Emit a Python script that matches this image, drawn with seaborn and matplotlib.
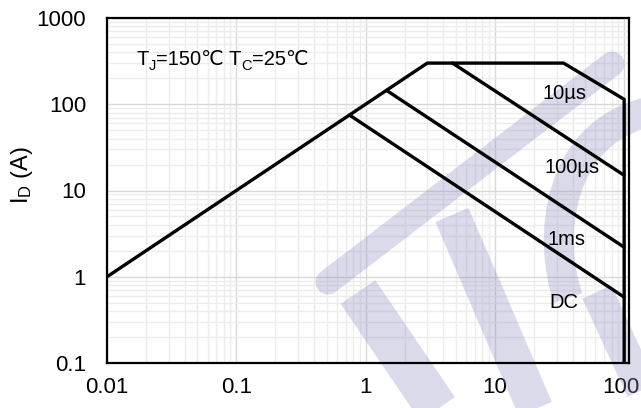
import numpy as np
import pandas as pd
import matplotlib
matplotlib.use("Agg")
import matplotlib.pyplot as plt
import matplotlib.transforms as mtransforms
from matplotlib.lines import Line2D
from matplotlib.path import Path
from matplotlib.patches import PathPatch
import seaborn as sns

# ---- data ----
outline_v = [0.01, 3.0, 34.0, 100.0, 100.0]
outline_i = [1.0, 300.0, 300.0, 114.0, 0.1]
dc_v = [0.75, 100.0]
dc_i = [75.0, 0.58]
ms1_v = [1.45, 100.0]
ms1_i = [145.0, 2.2]
us100_v = [4.7, 100.0]
us100_i = [300.0, 15.0]

curve_labels = ["10µs", "100µs", "1ms", "DC"]
label_v = [34.3, 39.5, 35.5, 34.3]
label_i = [134.0, 18.5, 2.69, 0.50]

x_ticks = [0.01, 0.1, 1, 10, 100]
x_ticklabels = ["0.01", "0.1", "1", "10", "100"]
y_ticks = [0.1, 1, 10, 100, 1000]
y_ticklabels = ["0.1", "1", "10", "100", "1000"]

sns.set_style("white")
plt.rcParams["font.family"] = ["Liberation Sans", "DejaVu Sans"]
plt.rcParams["mathtext.fontset"] = "custom"
plt.rcParams["mathtext.rm"] = "Liberation Sans"
plt.rcParams["mathtext.it"] = "Liberation Sans"
for k in ["text.color", "axes.labelcolor", "xtick.color", "ytick.color",
          "xtick.labelcolor", "ytick.labelcolor"]:
    plt.rcParams[k] = "black"

W, H = 641, 408
fig = plt.figure(figsize=(W / 100, H / 100), dpi=100)
ax = fig.add_axes([107 / W, 1 - 363 / H, (629 - 107) / W, (363 - 18) / H])

ax.set_xscale("log")
ax.set_yscale("log")
ax.set_xlim(0.01, 109)
ax.set_ylim(0.1, 1000)

ax.grid(True, which="major", color="#d8d8d8", lw=1.0, zorder=0)
ax.grid(True, which="minor", color="#ececec", lw=1.0, zorder=0)
ax.set_axisbelow(True)

# watermark (figure pixel coordinates)
def px(x, y):
    return (x / W, 1 - y / H)

wm_color = (0.55, 0.55, 0.75, 0.32)
def wm_line(p0, p1, lw_px, cap="butt"):
    (x0, y0), (x1, y1) = px(*p0), px(*p1)
    ln = Line2D([x0, x1], [y0, y1], transform=fig.transFigure, color=wm_color,
                lw=lw_px * 0.72, solid_capstyle=cap, clip_on=False, zorder=1.5)
    ax.add_line(ln)

wm_line((328, 282), (612, 64), 25, "round")
wm_line((358, 292), (445, 420), 42)
wm_line((452, 215), (540, 420), 36)
wm_line((597, 292), (652, 412), 32)
verts = [px(568, 298), px(548, 240), px(555, 135), px(648, 112)]
pp = PathPatch(Path(verts, [Path.MOVETO, Path.CURVE4, Path.CURVE4, Path.CURVE4]),
               transform=fig.transFigure, fill=False, edgecolor=wm_color,
               lw=30 * 0.72, clip_on=False, zorder=1.5, capstyle="butt")
ax.add_patch(pp)

lw = 2.4
for v, i in [(outline_v, outline_i), (dc_v, dc_i), (ms1_v, ms1_i), (us100_v, us100_i)]:
    sns.lineplot(x=v, y=i, ax=ax, color="black", lw=lw, sort=False,
                 estimator=None, zorder=3)

for lab, v, i in zip(curve_labels, label_v, label_i):
    ax.text(v, i, lab, ha="center", va="center", fontsize=14.5, zorder=4,
            color="black")

# condition text with subscripts, built from chained pieces
fs, fs_sub = 14.5, 10.5
pieces = [("T", False), ("J", True), ("=150℃ T", False), ("C", True), ("=25℃", False)]
prev = None
prev_normal = None
for txt, sub in pieces:
    size = fs_sub if sub else fs
    if prev is None:
        t = ax.text(0.056, 0.864, txt, transform=ax.transAxes, fontsize=size,
                    ha="left", va="baseline", zorder=4, color="black")
    else:
        t = ax.annotate(txt, xy=(1, 0), xycoords=(prev, prev_normal),
                        xytext=(0, -3 if sub else 0), textcoords="offset points",
                        fontsize=size, ha="left", va="bottom", zorder=4,
                        color="black")
    prev = t
    if not sub:
        prev_normal = t

ax.set_xticks(x_ticks)
ax.set_xticklabels(x_ticklabels)
ax.set_yticks(y_ticks)
ax.set_yticklabels(y_ticklabels)
ax.tick_params(axis="both", which="both", length=0, labelsize=16,
               labelcolor="black")
ax.tick_params(axis="y", pad=15)
ax.tick_params(axis="x", pad=10)
# keep the last x tick label inside the canvas
last = ax.get_xticklabels()[-1]
last.set_transform(last.get_transform() +
                   mtransforms.ScaledTranslation(-3 / 100, 0, fig.dpi_scale_trans))

ax.set_xlabel("")
ax.set_ylabel(r"I$_\mathregular{D}$ (A)", fontsize=17, va="center", color="black")
ax.yaxis.set_label_coords(-0.163, 0.545)

for s in ax.spines.values():
    s.set_color("black")
    s.set_linewidth(1.6)
    s.set_zorder(5)

fig.savefig("out.png", dpi=100)
